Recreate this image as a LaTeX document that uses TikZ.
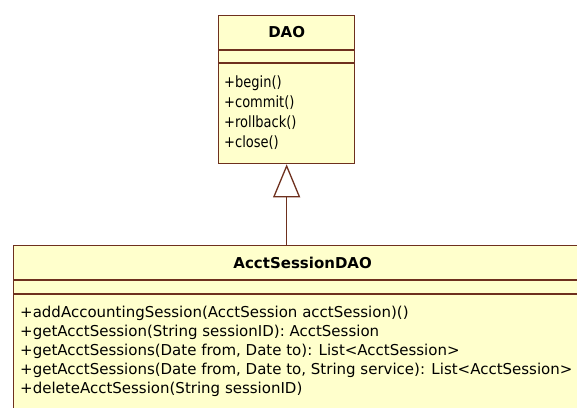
\documentclass[tikz,border=0pt]{standalone}
\usepackage{fontspec}
\setmainfont{DejaVu Sans}
\newfontfamily\narrowfont{DejaVu Sans}[FakeStretch=0.84]
\usetikzlibrary{arrows.meta}
\definecolor{classfill}{RGB}{255,255,204}
\definecolor{classline}{RGB}{110,48,30}
\tikzset{
  classbox/.style={draw=classline, fill=classfill, line width=1.3pt, inner sep=0pt},
  sepline/.style={draw=classline, line width=1.3pt},
  classname/.style={font=\fontsize{15}{17}\selectfont\bfseries, inner sep=0pt},
  member/.style={font=\fontsize{15}{17}\selectfont, anchor=west, inner sep=0pt,
                 text height=11pt, text depth=3pt},
  basemember/.style={member, font=\fontsize{15.5}{17}\selectfont\narrowfont},
  generalization/.style={draw=classline, line width=1.3pt,
                 -{Triangle[open, length=33pt, width=27pt, fill=white]}}
}
\begin{document}
\begin{tikzpicture}[x=1pt, y=-1pt]
\useasboundingbox (0,0) rectangle (577,407);
\clip (0,0) rectangle (577,407);

% base class DAO
\node[classbox, minimum width=136pt, minimum height=148pt, anchor=north west] (dao) at (218,15) {};
\draw[sepline] (dao.west |- 0,50) -- (dao.east |- 0,50);
\draw[sepline] (dao.west |- 0,63) -- (dao.east |- 0,63);
\node[classname] (daoname) at (dao.north |- 0,32) {DAO};
\node[basemember] (begin)    at (224,83)  {+begin()};
\node[basemember] (commit)   at (224,103) {+commit()};
\node[basemember] (rollback) at (224,123) {+rollback()};
\node[basemember] (close)    at (224,143) {+close()};

% subclass AcctSessionDAO (runs off the right and bottom edges)
\node[classbox, minimum width=578pt, minimum height=200pt, anchor=north west] (sub) at (13,245) {};
\draw[sepline] (sub.west |- 0,280) -- (sub.east |- 0,280);
\draw[sepline] (sub.west |- 0,294) -- (sub.east |- 0,294);
\node[classname] (subname) at (sub.north |- 0,263) {AcctSessionDAO};
\node[member] (op1) at (20,313) {+addAccountingSession(AcctSession acctSession)()};
\node[member] (op2) at (20,332) {+getAcctSession(String sessionID): AcctSession};
\node[member] (op3) at (20,351) {+getAcctSessions(Date from, Date to): List<AcctSession>};
\node[member] (op4) at (20,370) {+getAcctSessions(Date from, Date to, String service): List<AcctSession>};
\node[member] (op5) at (20,389) {+deleteAcctSession(String sessionID)};

% generalization arrow
\draw[generalization] (sub.north -| dao.south) -- (dao.south);
\end{tikzpicture}
\end{document}
